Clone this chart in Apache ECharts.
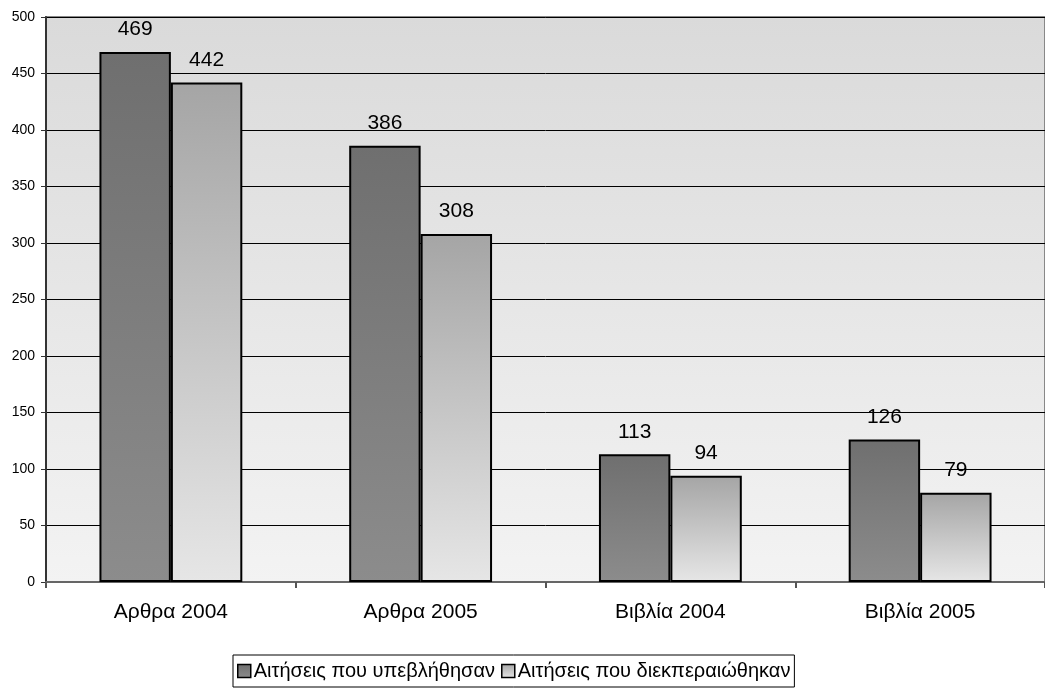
<!DOCTYPE html>
<html><head><meta charset="utf-8">
<script src="https://cdn.jsdelivr.net/npm/echarts@6/dist/echarts.min.js"></script>
<style>html,body{margin:0;padding:0;background:#fff;overflow:hidden}#c{width:1045px;height:689px}</style>
</head><body><div id="c"></div>
<script>
const categories = ['Αρθρα 2004', 'Αρθρα 2005', 'Βιβλία 2004', 'Βιβλία 2005'];
const submitted = [469, 386, 113, 126];
const processed = [442, 308, 94, 79];
const seriesNames = ['Αιτήσεις που υπεβλήθησαν', 'Αιτήσεις που διεκπεραιώθηκαν'];

const chart = echarts.init(document.getElementById('c'));
const font = 'Arial, "Liberation Sans", sans-serif';
const grad = (a, b) => new echarts.graphic.LinearGradient(0, 0, 0, 1, [{offset: 0, color: a}, {offset: 1, color: b}]);
chart.setOption({
  animation: false,
  textStyle: {fontFamily: font},
  grid: {left: 46, width: 1007, top: 17, bottom: 107, show: true,
    backgroundColor: grad('#dadada', '#f3f3f3'), borderColor: '#888', borderWidth: 2},
  legend: {
    bottom: 2, left: 233, itemWidth: 13, itemHeight: 13, itemGap: 6,
    padding: [6, 4, 6, 4], borderColor: '#000', borderWidth: 1, borderRadius: 0,
    textStyle: {fontSize: 20, color: '#000', fontFamily: font, padding: [0, 0, 0, -2]},
    data: [
      {name: seriesNames[0], icon: 'rect', itemStyle: {borderColor: '#000', borderWidth: 1.5}},
      {name: seriesNames[1], icon: 'rect', itemStyle: {borderColor: '#000', borderWidth: 1.5}}
    ]
  },
  xAxis: {
    type: 'category', data: categories,
    axisLine: {lineStyle: {color: '#666', width: 2}},
    axisTick: {show: true, length: 6, lineStyle: {color: '#555', width: 2}},
    axisLabel: {fontSize: 21, color: '#000', margin: 20, fontFamily: font}
  },
  yAxis: {
    type: 'value', min: 0, max: 500, interval: 50,
    axisLine: {show: true, lineStyle: {color: '#333', width: 2}},
    axisTick: {show: true, length: 5, lineStyle: {color: '#333'}},
    axisLabel: {fontSize: 14, color: '#000', margin: 11, fontFamily: font},
    splitLine: {lineStyle: {color: '#000', width: 1}}
  },
  series: [
    {name: seriesNames[0], type: 'bar', data: submitted, barWidth: '28.6%', barGap: '0%',
      itemStyle: {color: grad('#6f6f6f', '#8c8c8c'), borderColor: '#000', borderWidth: 2},
      label: {show: true, position: 'top', distance: 12, fontSize: 21, color: '#000', fontFamily: font}},
    {name: seriesNames[1], type: 'bar', data: processed, barWidth: '28.6%',
      itemStyle: {color: grad('#a5a5a5', '#e6e6e6'), borderColor: '#000', borderWidth: 2},
      label: {show: true, position: 'top', distance: 12, fontSize: 21, color: '#000', fontFamily: font}}
  ]
});
</script></body></html>
